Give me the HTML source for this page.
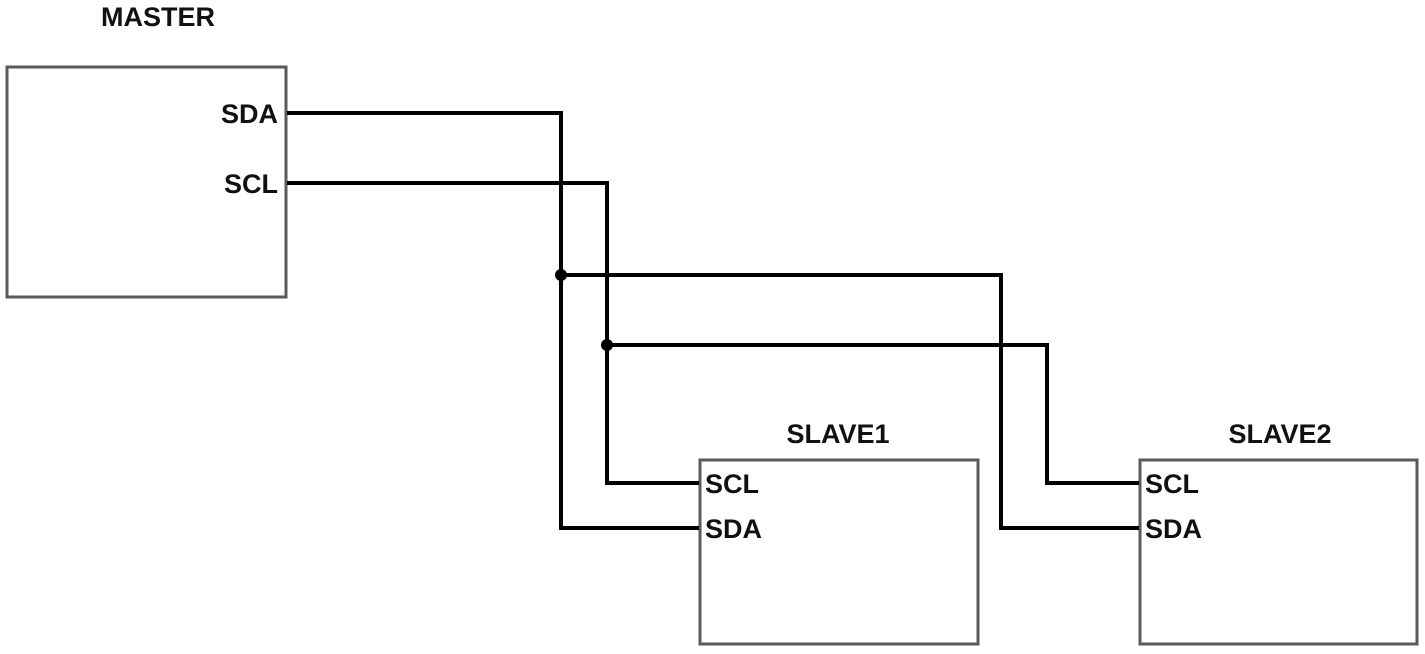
<!DOCTYPE html>
<html><head><meta charset="utf-8"><style>
html,body{margin:0;padding:0;background:#fff;}
svg{display:block;}
text{font-family:"Liberation Sans",sans-serif;font-weight:bold;font-size:27px;fill:#111;}
</style></head><body>
<svg width="1425" height="654" viewBox="0 0 1425 654">
<g fill="none" stroke="#5a5a5a" stroke-width="3">
<rect x="7" y="67" width="279" height="230"/>
<rect x="700" y="460" width="278" height="184"/>
<rect x="1140" y="460" width="277" height="184"/>
</g>
<g fill="none" stroke="#000" stroke-width="4" stroke-linejoin="miter">
<polyline points="287,113 561,113 561,528 699,528"/>
<polyline points="287,183 607,183 607,483 699,483"/>
<polyline points="561,275 1001,275 1001,528 1139,528"/>
<polyline points="607,345 1047,345 1047,483 1139,483"/>
</g>
<circle cx="561" cy="275" r="6" fill="#000"/>
<circle cx="607" cy="345" r="6" fill="#000"/>
<text x="158" y="26" text-anchor="middle">MASTER</text>
<text x="278" y="123" text-anchor="end">SDA</text>
<text x="278" y="193" text-anchor="end">SCL</text>
<text x="838" y="443" text-anchor="middle">SLAVE1</text>
<text x="1280" y="443" text-anchor="middle">SLAVE2</text>
<text x="705" y="493">SCL</text>
<text x="705" y="538">SDA</text>
<text x="1145" y="493">SCL</text>
<text x="1145" y="538">SDA</text>
</svg>
</body></html>
